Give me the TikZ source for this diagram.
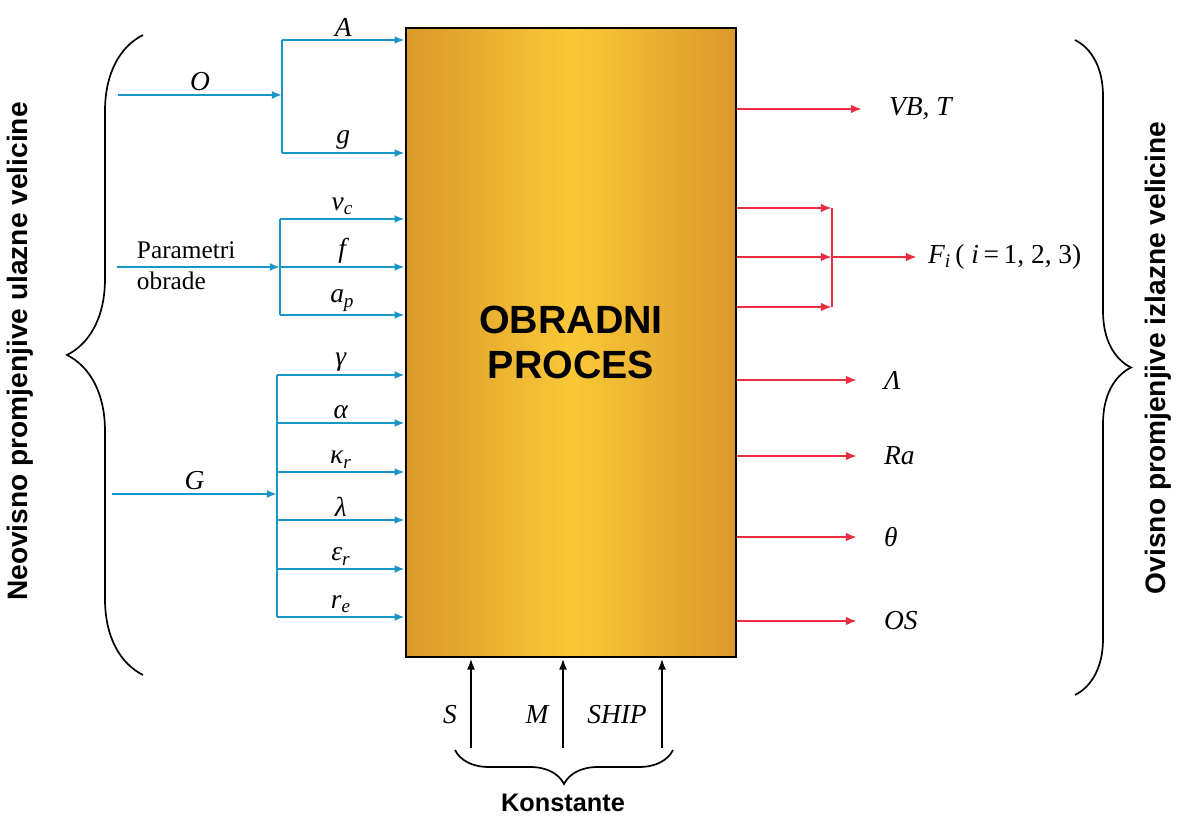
\documentclass[tikz,border=0pt]{standalone}
\usepackage{fontspec}
\setmainfont{Liberation Serif}
\setsansfont{Liberation Sans}
\usetikzlibrary{arrows.meta,positioning,decorations.pathreplacing}

\definecolor{inblue}{RGB}{25,150,200}
\definecolor{outred}{RGB}{235,45,65}
\definecolor{boxedge}{RGB}{218,152,42}
\definecolor{boxmid}{RGB}{250,200,55}

\begin{document}
\begin{tikzpicture}[
  x=0.025cm,y=-0.025cm,
  proc/.style={draw,line width=2pt,minimum width=8.25cm,minimum height=15.725cm,
    shading=axis,left color=boxedge,right color=boxedge,middle color=boxmid,
    font=\sffamily\bfseries\fontsize{28}{32}\selectfont,align=center},
  inln/.style={inblue,line width=1.5pt},
  inarr/.style={-{Latex[length=2.5mm,width=2mm]},inln},
  outln/.style={outred,line width=1.6pt},
  outarr/.style={-{Latex[length=2.8mm,width=2.2mm]},outln},
  konarr/.style={-{Latex[length=2.8mm,width=2mm]},line width=1.4pt},
  lbl/.style={text=black,font=\itshape\fontsize{19.5}{22}\selectfont,inner sep=2pt},
  par/.style={text=black,font=\fontsize{18}{22}\selectfont,align=left},
  side/.style={font=\sffamily\bfseries\fontsize{20}{24}\selectfont,rotate=90},
  brc/.style={decorate,decoration={brace,amplitude=#1},line width=1.2pt}
]
  \useasboundingbox (0,0) rectangle (1180,819);

  \node[proc] (proc) at (571,342.5) {OBRADNI\\PROCES};

  % ulaz O
  \coordinate (o0) at (118,95);
  \coordinate (oj) at (282,95);
  \coordinate (oa) at (282,40);
  \coordinate (og) at (282,153);
  \draw[inarr] (o0) -- node[lbl,above] (lo) {O} (oj);
  \draw[inln] (oa) -- (og);
  \draw[inarr] (oa) -- node[lbl,above] (la) {A} (oa -| proc.west);
  \draw[inarr] (og) -- node[lbl,above] (lg) {g} (og -| proc.west);

  % parametri obrade
  \coordinate (p0) at (117,267);
  \coordinate (pj) at (280,267);
  \coordinate (pv) at (280,219);
  \coordinate (pa) at (280,315);
  \draw[inarr] (p0) -- (pj);
  \node[par,anchor=west] (lpar) at (132,266) {Parametri\\obrade};
  \draw[inln] (pv) -- (pa);
  \draw[inarr] (pv) -- node[lbl,above] (lvc) {v\textsubscript{c}} (pv -| proc.west);
  \draw[inarr] (pj) -- node[lbl,above] (lf) {f} (pj -| proc.west);
  \draw[inarr] (pa) -- node[lbl,above] (lap) {a\textsubscript{p}} (pa -| proc.west);

  % ulaz G
  \coordinate (g0) at (112,494);
  \coordinate (gj) at (277,494);
  \coordinate (g1) at (277,375);
  \coordinate (g2) at (277,423);
  \coordinate (g3) at (277,472);
  \coordinate (g4) at (277,520);
  \coordinate (g5) at (277,569);
  \coordinate (g6) at (277,617);
  \draw[inarr] (g0) -- node[lbl,above] (lG) {G} (gj);
  \draw[inln] (g1) -- (g6);
  \draw[inarr] (g1) -- node[lbl,above] (lgam) {γ} (g1 -| proc.west);
  \draw[inarr] (g2) -- node[lbl,above] (lalf) {α} (g2 -| proc.west);
  \draw[inarr] (g3) -- node[lbl,above] (lkap) {κ\textsubscript{r}} (g3 -| proc.west);
  \draw[inarr] (g4) -- node[lbl,above] (llam) {λ} (g4 -| proc.west);
  \draw[inarr] (g5) -- node[lbl,above] (leps) {ε\textsubscript{r}} (g5 -| proc.west);
  \draw[inarr] (g6) -- node[lbl,above] (lre) {r\textsubscript{e}} (g6 -| proc.west);

  % izlazi
  \coordinate (vb) at (862,109);
  \coordinate (fa) at (832,208);
  \coordinate (fj) at (832,257);
  \coordinate (fb) at (832,307);
  \coordinate (fi) at (917,257);
  \coordinate (lm) at (857,380);
  \coordinate (ra) at (857,456);
  \coordinate (th) at (857,537);
  \coordinate (os) at (857,621);
  \draw[outarr] (vb -| proc.east) -- (vb);
  \draw[outarr] (fa -| proc.east) -- (fa);
  \draw[outarr] (fj -| proc.east) -- (fj);
  \draw[outarr] (fb -| proc.east) -- (fb);
  \draw[outln] (fa) -- (fb);
  \draw[outarr] (fj) -- (fi);
  \draw[outarr] (lm -| proc.east) -- (lm);
  \draw[outarr] (ra -| proc.east) -- (ra);
  \draw[outarr] (th -| proc.east) -- (th);
  \draw[outarr] (os -| proc.east) -- (os);
  \node[lbl,right=6mm of vb] (lvb) {VB, T};
  \node[lbl,right=2mm of fi] (lfi) {F\textsubscript{i}{\upshape\,( }i{\upshape\,=\,1, 2, 3)}};
  \node[lbl,right=6mm of lm] (llm) {Λ};
  \node[lbl,right=6mm of ra] (lra) {Ra};
  \node[lbl,right=6mm of th] (lth) {θ};
  \node[lbl,right=6mm of os] (los) {OS};

  % konstante
  \coordinate (ks) at (471,748);
  \coordinate (km) at (563,748);
  \coordinate (kh) at (662,748);
  \draw[konarr] (ks) -- (ks |- proc.south);
  \draw[konarr] (km) -- (km |- proc.south);
  \draw[konarr] (kh) -- (kh |- proc.south);
  \node[lbl] (ls) at (450,715) {S};
  \node[lbl] (lm2) at (537,715) {M};
  \node[lbl] (lship) at (617,715) {SHIP};
  \draw[brc=0.85cm] (673,750) -- (455,750);
  \node[font=\sffamily\bfseries\fontsize{18}{22}\selectfont] (lkon) at (563,803) {Konstante};

  % zagrade
  \draw[brc=1.9cm] (143,675) -- (143,35);
  \draw[brc=1.4cm] (1075,40) -- (1075,695);
  \node[side] (lside) at (20,351.5) {Neovisno promjenjive ulazne velicine};
  \node[side] (rside) at (1158,358) {Ovisno promjenjive izlazne velicine};
\end{tikzpicture}
\end{document}
